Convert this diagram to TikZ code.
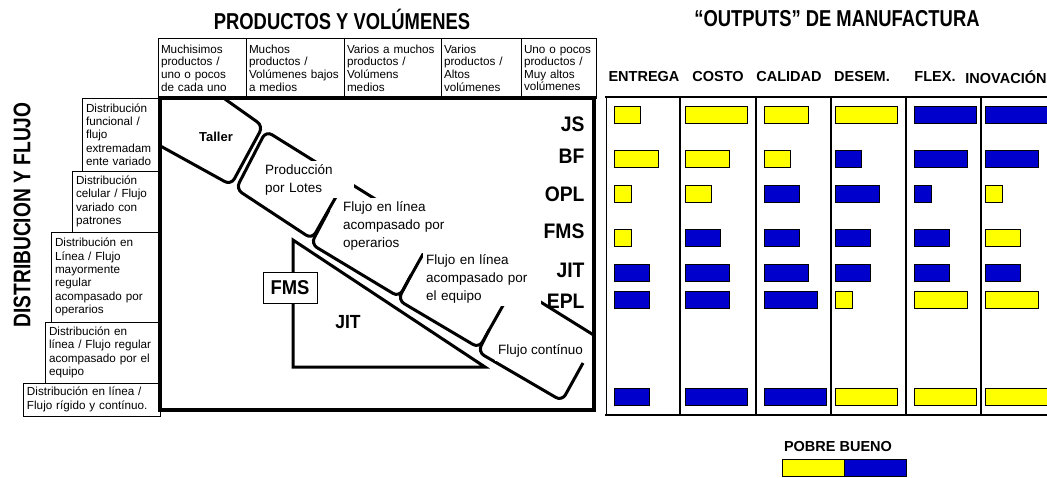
\documentclass[tikz,border=0pt]{standalone}
\usepackage{fontspec}
\setmainfont{Liberation Sans}
\newfontfamily\condbf[FakeStretch=0.8]{Liberation Sans Bold}
\newfontfamily\labbf[FakeStretch=0.92]{Liberation Sans Bold}
\definecolor{Y}{RGB}{255,255,0}
\definecolor{B}{RGB}{0,0,204}
\usetikzlibrary{positioning}
\begin{document}
\begin{tikzpicture}[x=1pt,y=-1pt,every node/.style={font=\fontsize{11.7}{12.6}\selectfont},hcell/.style={draw,line width=1pt,outer sep=0pt,minimum height=60pt,inner xsep=3pt,inner ysep=2pt,align=left},rcell/.style={draw,line width=.8pt,outer sep=0pt,inner xsep=4pt,inner ysep=2pt,align=left,font=\fontsize{11.7}{13.3}\selectfont},band/.style={line width=3pt,rounded corners=7pt},flow/.style={fill=white,inner sep=3pt,align=left,font=\fontsize{13.5}{18}\selectfont},title/.style={font=\condbf\fontsize{23}{26}\selectfont},big/.style={font=\labbf\fontsize{21}{23}\selectfont},outhead/.style={font=\bfseries\fontsize{14.5}{16}\selectfont},bar/.style={draw,line width=.9pt}]
\useasboundingbox (0,0) rectangle (1047,477);
\node[title] (prod) at (342,19) {PRODUCTOS Y VOLÚMENES};\node[title] (outs) at (837,19) {“OUTPUTS” DE MANUFACTURA};\node[title,font=\condbf\fontsize{24}{26}\selectfont,rotate=90] (dist) at (22,215) {DISTRIBUCION Y FLUJO};
\node[hcell,anchor=north west,text width=82pt] (h1) at (158,38) {Muchisimos\\productos /\\uno o pocos\\de cada uno};
\node[hcell,text width=92pt,right=0pt of h1] (h2) {Muchos\\productos /\\Volúmenes bajos\\a medios};
\node[hcell,text width=91pt,right=0pt of h2] (h3) {Varios a muchos\\productos /\\Volúmens\\medios};
\node[hcell,text width=74pt,right=0pt of h3] (h4) {Varios\\productos /\\Altos\\volúmenes};
\node[hcell,text width=69pt,right=0pt of h4] (h5) {Uno o pocos\\productos /\\Muy altos\\volúmenes};
\node[rcell,anchor=north east,text width=70pt,minimum height=73pt] (d1) at (160,98) {Distribución\\funcional /\\flujo\\extremadam\\ente variado};
\node[rcell,below=0pt of d1.south east,anchor=north east,text width=80pt,minimum height=61pt] (d2) {Distribución\\celular / Flujo\\variado con\\patrones};
\node[rcell,below=0pt of d2.south east,anchor=north east,text width=101pt,minimum height=90pt] (d3) {Distribución en\\Línea / Flujo\\mayormente\\regular\\acompasado por\\operarios};
\node[rcell,below=0pt of d3.south east,anchor=north east,text width=107pt,minimum height=61pt] (d4) {Distribución en\\línea / Flujo regular\\acompasado por el\\equipo};
\node[rcell,below=0pt of d4.south east,anchor=north east,text width=129pt,minimum height=33pt] (d5) {Distribución en línea /\\Flujo rígido y contínuo.};
\begin{scope}
\clip (160,98) rectangle (594,410);
\draw[band] (215,92) -- (263,126) -- (231,185) -- (155,143);
\draw[band] (600,339) -- (266,131) -- (236,189) -- (312,239) -- (349,174);
\draw[band] (329,210) -- (311,244) -- (399,297) -- (432,238);
\draw[band] (411,275) -- (398,300) -- (479,348) -- (514,286);
\draw[band] (489,330) -- (478,352) -- (562,401) -- (583,363);
\draw[line width=3pt] (293,240) -- (293,367) -- (485,367) -- cycle;
\end{scope}
\node[font=\bfseries\fontsize{13}{15}\selectfont] (taller) at (216,137) {Taller};
\node[flow,anchor=north west,text width=86pt] (lotes) at (262,161) {Producción\\por Lotes};
\node[flow,anchor=north west,text width=118pt] (oper) at (340,198) {Flujo en línea\\acompasado por\\operarios};
\node[flow,anchor=north west,text width=112pt] (equi) at (423,251) {Flujo en línea\\acompasado por\\el equipo};
\node[flow,anchor=west,inner ysep=4pt] (cont) at (495,351) {Flujo contínuo};
\node[big,font=\labbf\fontsize{20}{22}\selectfont,draw,fill=white,line width=1pt,minimum width=54pt,minimum height=31pt] (fms) at (290,288) {FMS};\node[big,font=\labbf\fontsize{19}{21}\selectfont] (jit) at (348,322) {JIT};
\foreach \t/\yy in {JS/124,BF/156,OPL/194,FMS/231,JIT/270,EPL/301} \node[big,anchor=east] (p\t) at (588,\yy) {\t};
\draw[line width=3.5pt] (160,98) rectangle (594,410);
\draw[line width=1pt] (606,97) -- (606,415);\draw[line width=2pt] (605,97) -- (1047,97) (605,415) -- (1047,415);
\foreach \x in {680,756,831,906,981} \draw[line width=2pt] (\x,97) -- (\x,415);
\foreach \t/\x [count=\i] in {ENTREGA/644,COSTO/718,CALIDAD/789,DESEM./862,FLEX./935,INOVACIÓN/1006} \node[outhead] (o\i) at (\x,77) {\t};
\foreach \yy/\row in {115/{Y/3,Y/7,Y/5,Y/7,B/7,B/7},159/{Y/5,Y/5,Y/3,B/3,B/6,B/6},194/{Y/2,Y/3,B/4,B/5,B/2,Y/2},238/{Y/2,B/4,B/4,B/4,B/4,Y/4},273/{B/4,B/5,B/5,B/4,B/4,B/4},300/{B/4,B/5,B/6,Y/2,Y/6,Y/6},397/{B/4,B/7,B/7,Y/7,Y/7,Y/7}}
 \foreach \c/\n [count=\i] in \row {\pgfmathsetmacro\xs{{614,685,764,835,914,985}[\i-1]}\draw[bar,fill=\c] (\xs,\yy-8.5) rectangle ++(8.86*\n,17);};
\node[outhead] (leg) at (838,447) {POBRE BUENO};
\draw[bar,fill=Y] (782,459) rectangle (844,476);\draw[bar,fill=B] (844,459) rectangle (906,476);
\end{tikzpicture}
\end{document}
